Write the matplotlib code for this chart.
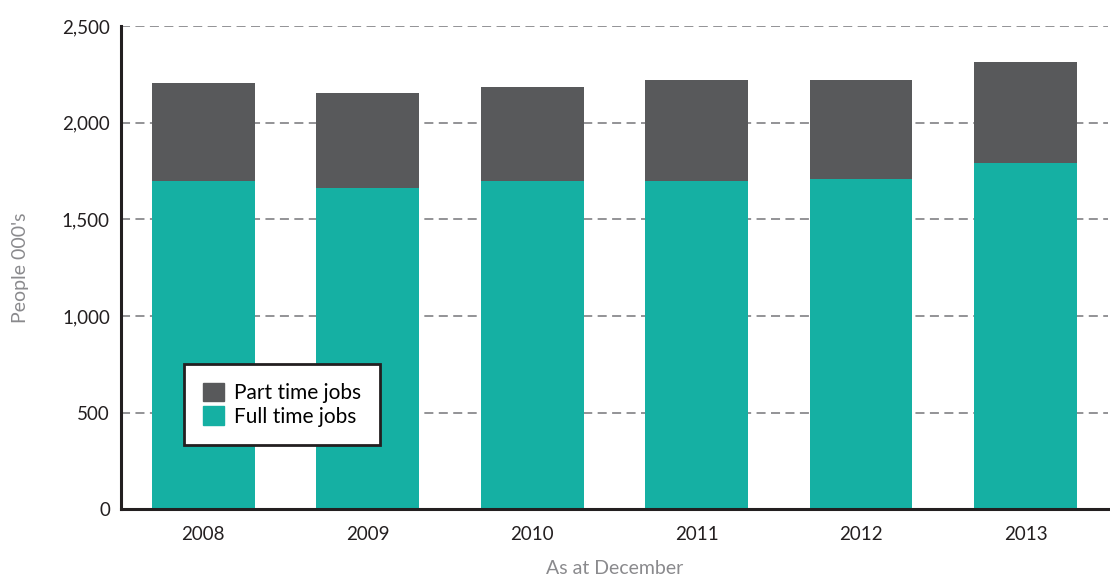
import matplotlib

matplotlib.use("Agg")
import matplotlib.pyplot as plt
from matplotlib.patches import Patch
from matplotlib.ticker import FuncFormatter

years = ["2008", "2009", "2010", "2011", "2012", "2013"]
full_time = [1700, 1660, 1700, 1700, 1710, 1790]
part_time = [505, 495, 485, 520, 510, 525]

TEAL = "#15b0a3"
GREY = "#58595b"

plt.rcParams["font.family"] = ["Lato", "DejaVu Sans"]

fig = plt.figure(figsize=(11.1, 5.76), dpi=100)
ax = fig.add_axes([0.109, 0.116, 0.889, 0.839])

x = range(len(years))
ax.bar(x, full_time, width=0.625, color=TEAL, zorder=3)
ax.bar(x, part_time, width=0.625, bottom=full_time, color=GREY, zorder=3)

ax.set_xlim(-0.5, 5.5)
ax.set_ylim(0, 2500)
ax.set_yticks(range(0, 2501, 500))
ax.yaxis.set_major_formatter(FuncFormatter(lambda v, p: f"{int(v):,}"))
ax.set_xticks(list(x))
ax.set_xticklabels(years)
ax.tick_params(axis="both", length=0, labelsize=13.5, colors="#231f20")
ax.tick_params(axis="x", pad=12)
ax.tick_params(axis="y", pad=8)

ax.grid(axis="y", linestyle=(0, (5, 3)), color="#8a8a8d", linewidth=1.3, zorder=0)
for s in ["top", "right"]:
    ax.spines[s].set_visible(False)
ax.spines["left"].set_color("#231f20")
ax.spines["left"].set_linewidth(2.2)
ax.spines["bottom"].set_color("#231f20")
ax.spines["bottom"].set_linewidth(2.2)
ax.spines["bottom"].set_zorder(4)

ax.set_ylabel("People 000's", fontsize=14, color="#8a8a8d", labelpad=24)
ax.set_xlabel("As at December", fontsize=14, color="#8a8a8d", labelpad=12)

handles = [Patch(color=GREY, label="Part time jobs"), Patch(color=TEAL, label="Full time jobs")]
leg = ax.legend(
    handles=handles,
    loc="lower left",
    bbox_to_anchor=(0.064, 0.132),
    borderaxespad=0,
    fontsize=15,
    frameon=True,
    fancybox=False,
    handlelength=1.0,
    handleheight=1.0,
    handletextpad=0.5,
    labelspacing=0.15,
    borderpad=0.9,
)
leg.get_frame().set_edgecolor("#231f20")
leg.get_frame().set_linewidth(2)
leg.get_frame().set_alpha(1)
leg.set_zorder(5)

fig.savefig("out.png", dpi=100)
